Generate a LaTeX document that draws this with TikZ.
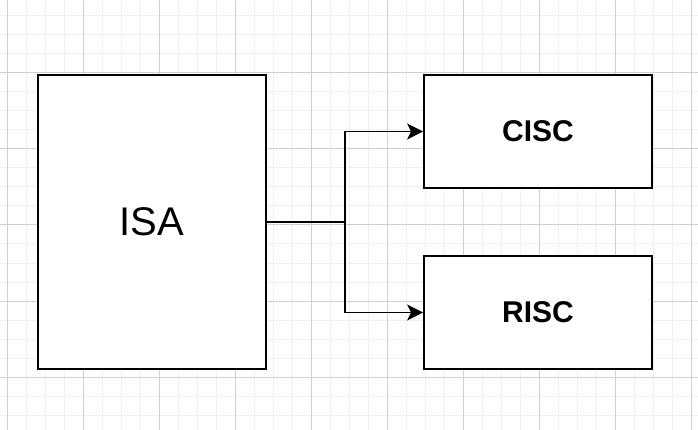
\documentclass[tikz,border=0pt]{standalone}
\usepackage{fontspec}
\setmainfont{Liberation Sans}
\usetikzlibrary{arrows.meta}
\definecolor{gridminor}{HTML}{F0F0F0}
\definecolor{gridmajor}{HTML}{D0D0D0}
\tikzset{
  box/.style={draw=black, line width=1.8pt, fill=white, inner sep=0pt, minimum width=228pt},
  conn/.style={draw=black, line width=1.8pt, -{Stealth[length=16pt,width=16pt,inset=4pt]}},
}
\begin{document}
\begin{tikzpicture}[x=1pt,y=-1pt]
\useasboundingbox (0,0) rectangle (698,430);
\fill[white] (0,0) rectangle (698,430);
\foreach \i in {0,...,38} {
  \draw[gridminor, line width=1pt] ({-12+19*\i},0) -- ({-12+19*\i},430);
}
\foreach \i in {0,...,23} {
  \draw[gridminor, line width=1pt] (0,{-3+19*\i}) -- (698,{-3+19*\i});
}
\foreach \i in {0,...,9} {
  \draw[gridmajor, line width=1pt] ({7+76*\i},0) -- ({7+76*\i},430);
}
\foreach \i in {0,...,6} {
  \draw[gridmajor, line width=1pt] (0,{-3+76*\i}) -- (698,{-3+76*\i});
}
\node[box, minimum height=294pt, font=\fontsize{40}{44}\selectfont] (isa) at (152,222) {ISA};
\node[box, minimum height=113pt, font=\bfseries\fontsize{30}{34}\selectfont] (cisc) at (538,131.5) {CISC};
\node[box, minimum height=113pt, font=\bfseries\fontsize{30}{34}\selectfont] (risc) at (538,312.5) {RISC};
\coordinate (split) at (345,222);
\draw[conn] (isa.east) -- (split) |- (cisc.west);
\draw[conn] (isa.east) -- (split) |- (risc.west);
\end{tikzpicture}
\end{document}
